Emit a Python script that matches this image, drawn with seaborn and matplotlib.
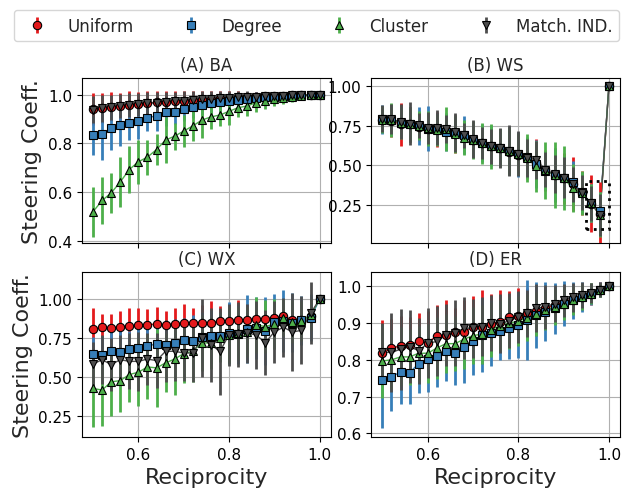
import pandas as pd
import matplotlib
matplotlib.use("Agg")
import matplotlib.pyplot as plt
from matplotlib.patches import Rectangle
import seaborn as sns

# Reciprocity values (x axis)
reciprocity = [0.50, 0.52, 0.54, 0.56, 0.58, 0.60, 0.62, 0.64, 0.66, 0.68, 0.70, 0.72, 0.74,
               0.76, 0.78, 0.80, 0.82, 0.84, 0.86, 0.88, 0.90, 0.92, 0.94, 0.96, 0.98, 1.00]

methods = ['Uniform', 'Degree', 'Cluster', 'Match. IND.']
panel_titles = ['(A) BA', '(B) WS', '(C) WX', '(D) ER']

# (A) BA
ba_uniform = [0.940, 0.945, 0.950, 0.952, 0.958, 0.962, 0.965, 0.968, 0.970, 0.973, 0.975, 0.977, 0.980,
              0.982, 0.984, 0.986, 0.988, 0.990, 0.991, 0.993, 0.995, 0.996, 0.997, 0.998, 0.999, 1.000]
ba_uniform_err = [0.065, 0.062, 0.060, 0.055, 0.055, 0.050, 0.048, 0.045, 0.045, 0.042, 0.040, 0.038, 0.035,
                  0.032, 0.030, 0.028, 0.025, 0.022, 0.020, 0.018, 0.015, 0.012, 0.010, 0.008, 0.005, 0.0]
ba_degree = [0.832, 0.836, 0.861, 0.873, 0.884, 0.893, 0.904, 0.913, 0.927, 0.930, 0.940, 0.949, 0.958,
             0.964, 0.968, 0.972, 0.977, 0.981, 0.985, 0.988, 0.990, 0.993, 0.995, 0.997, 0.999, 1.000]
ba_degree_err = [0.080, 0.105, 0.088, 0.085, 0.070, 0.075, 0.055, 0.062, 0.057, 0.052, 0.050, 0.045, 0.042,
                 0.040, 0.036, 0.033, 0.030, 0.027, 0.024, 0.020, 0.017, 0.014, 0.011, 0.008, 0.004, 0.0]
ba_cluster = [0.519, 0.565, 0.596, 0.641, 0.692, 0.724, 0.743, 0.774, 0.813, 0.829, 0.850, 0.871, 0.895,
              0.908, 0.916, 0.931, 0.946, 0.953, 0.967, 0.974, 0.981, 0.986, 0.990, 0.994, 0.997, 1.000]
ba_cluster_err = [0.103, 0.096, 0.083, 0.103, 0.096, 0.090, 0.072, 0.065, 0.093, 0.055, 0.067, 0.060, 0.075,
                  0.048, 0.045, 0.055, 0.040, 0.040, 0.040, 0.035, 0.030, 0.025, 0.020, 0.015, 0.008, 0.0]
ba_match = [0.938, 0.943, 0.948, 0.953, 0.957, 0.960, 0.964, 0.967, 0.970, 0.972, 0.975, 0.977, 0.980,
            0.982, 0.984, 0.986, 0.988, 0.989, 0.991, 0.993, 0.994, 0.996, 0.997, 0.998, 0.999, 1.000]
ba_match_err = [0.055, 0.055, 0.052, 0.050, 0.050, 0.048, 0.046, 0.044, 0.042, 0.040, 0.038, 0.036, 0.034,
                0.032, 0.030, 0.028, 0.026, 0.024, 0.021, 0.018, 0.015, 0.012, 0.010, 0.007, 0.004, 0.0]

# (B) WS
ws_uniform = [0.785, 0.782, 0.758, 0.760, 0.745, 0.730, 0.728, 0.722, 0.700, 0.688, 0.660, 0.640, 0.620,
              0.610, 0.585, 0.568, 0.545, 0.515, 0.470, 0.440, 0.418, 0.385, 0.325, 0.260, 0.195, 1.000]
ws_uniform_err = [0.080, 0.100, 0.135, 0.110, 0.090, 0.100, 0.110, 0.090, 0.120, 0.090, 0.110, 0.100, 0.110,
                  0.120, 0.140, 0.120, 0.130, 0.150, 0.130, 0.170, 0.160, 0.170, 0.140, 0.180, 0.200, 0.0]
ws_degree = [0.790, 0.785, 0.770, 0.758, 0.748, 0.732, 0.730, 0.712, 0.702, 0.690, 0.662, 0.640, 0.625,
             0.612, 0.590, 0.570, 0.550, 0.508, 0.468, 0.440, 0.418, 0.395, 0.330, 0.262, 0.212, 1.000]
ws_degree_err = [0.090, 0.100, 0.100, 0.110, 0.120, 0.140, 0.100, 0.120, 0.110, 0.120, 0.110, 0.120, 0.130,
                 0.120, 0.150, 0.140, 0.130, 0.150, 0.120, 0.170, 0.140, 0.130, 0.130, 0.120, 0.120, 0.0]
ws_cluster = [0.788, 0.786, 0.768, 0.758, 0.750, 0.733, 0.722, 0.728, 0.700, 0.673, 0.662, 0.640, 0.620,
              0.610, 0.590, 0.572, 0.545, 0.495, 0.470, 0.440, 0.420, 0.358, 0.326, 0.262, 0.190, 1.000]
ws_cluster_err = [0.085, 0.110, 0.100, 0.110, 0.090, 0.110, 0.100, 0.140, 0.120, 0.110, 0.120, 0.130, 0.140,
                  0.120, 0.150, 0.130, 0.150, 0.160, 0.180, 0.210, 0.200, 0.150, 0.140, 0.120, 0.140, 0.0]
ws_match = [0.795, 0.790, 0.775, 0.762, 0.752, 0.735, 0.738, 0.730, 0.708, 0.690, 0.665, 0.642, 0.622,
            0.608, 0.592, 0.575, 0.548, 0.535, 0.472, 0.445, 0.422, 0.380, 0.328, 0.262, 0.188, 1.000]
ws_match_err = [0.085, 0.095, 0.110, 0.135, 0.080, 0.100, 0.110, 0.090, 0.125, 0.080, 0.120, 0.100, 0.110,
                0.125, 0.160, 0.140, 0.120, 0.120, 0.110, 0.120, 0.130, 0.110, 0.110, 0.110, 0.130, 0.0]

# (C) WX
wx_uniform = [0.808, 0.820, 0.816, 0.823, 0.827, 0.833, 0.835, 0.842, 0.833, 0.842, 0.848, 0.846, 0.846,
              0.850, 0.861, 0.863, 0.868, 0.870, 0.874, 0.876, 0.882, 0.890, 0.870, 0.865, 0.895, 1.000]
wx_uniform_err = [0.135, 0.085, 0.090, 0.100, 0.120, 0.110, 0.100, 0.110, 0.095, 0.105, 0.120, 0.100, 0.115,
                  0.140, 0.095, 0.110, 0.125, 0.100, 0.120, 0.110, 0.100, 0.100, 0.110, 0.120, 0.110, 0.0]
wx_degree = [0.647, 0.641, 0.665, 0.658, 0.679, 0.684, 0.700, 0.712, 0.707, 0.716, 0.739, 0.729, 0.756,
             0.761, 0.761, 0.786, 0.776, 0.810, 0.818, 0.797, 0.857, 0.861, 0.850, 0.865, 0.882, 1.000]
wx_degree_err = [0.110, 0.120, 0.130, 0.140, 0.120, 0.150, 0.140, 0.150, 0.130, 0.160, 0.140, 0.170, 0.160,
                 0.170, 0.160, 0.200, 0.190, 0.220, 0.200, 0.220, 0.180, 0.200, 0.190, 0.160, 0.150, 0.0]
wx_cluster = [0.425, 0.415, 0.468, 0.476, 0.515, 0.530, 0.564, 0.558, 0.590, 0.615, 0.650, 0.665, 0.720,
              0.718, 0.754, 0.770, 0.780, 0.790, 0.835, 0.825, 0.840, 0.883, 0.857, 0.860, 0.900, 1.000]
wx_cluster_err = [0.250, 0.230, 0.220, 0.200, 0.180, 0.220, 0.210, 0.250, 0.190, 0.230, 0.190, 0.200, 0.180,
                  0.170, 0.160, 0.180, 0.170, 0.160, 0.180, 0.170, 0.160, 0.120, 0.140, 0.130, 0.100, 0.0]
wx_match = [0.583, 0.611, 0.579, 0.611, 0.600, 0.600, 0.615, 0.605, 0.665, 0.665, 0.654, 0.654, 0.750,
            0.707, 0.665, 0.771, 0.776, 0.782, 0.771, 0.720, 0.790, 0.820, 0.790, 0.800, 0.910, 1.000]
wx_match_err = [0.140, 0.160, 0.170, 0.160, 0.180, 0.190, 0.170, 0.180, 0.200, 0.190, 0.180, 0.190, 0.250,
                0.240, 0.280, 0.200, 0.210, 0.190, 0.220, 0.210, 0.200, 0.190, 0.250, 0.220, 0.200, 0.0]

# (D) ER
er_uniform = [0.818, 0.832, 0.838, 0.841, 0.850, 0.847, 0.865, 0.868, 0.875, 0.875, 0.889, 0.890, 0.898,
              0.904, 0.916, 0.920, 0.926, 0.933, 0.940, 0.949, 0.958, 0.965, 0.971, 0.980, 0.991, 1.000]
er_uniform_err = [0.090, 0.080, 0.080, 0.075, 0.076, 0.085, 0.085, 0.095, 0.065, 0.088, 0.085, 0.100, 0.080,
                  0.085, 0.070, 0.075, 0.070, 0.068, 0.060, 0.050, 0.045, 0.040, 0.035, 0.030, 0.020, 0.0]
er_degree = [0.745, 0.754, 0.767, 0.765, 0.790, 0.802, 0.810, 0.823, 0.818, 0.836, 0.850, 0.868, 0.872,
             0.879, 0.886, 0.895, 0.908, 0.922, 0.931, 0.940, 0.953, 0.962, 0.971, 0.978, 0.991, 1.000]
er_degree_err = [0.130, 0.093, 0.088, 0.085, 0.080, 0.090, 0.085, 0.080, 0.085, 0.100, 0.090, 0.100, 0.090,
                 0.080, 0.085, 0.090, 0.108, 0.090, 0.080, 0.070, 0.060, 0.050, 0.040, 0.030, 0.020, 0.0]
er_cluster = [0.797, 0.800, 0.808, 0.808, 0.818, 0.818, 0.832, 0.844, 0.844, 0.856, 0.866, 0.870, 0.882,
              0.893, 0.900, 0.905, 0.915, 0.925, 0.935, 0.944, 0.953, 0.962, 0.971, 0.980, 0.990, 1.000]
er_cluster_err = [0.100, 0.080, 0.080, 0.075, 0.075, 0.080, 0.085, 0.080, 0.075, 0.080, 0.078, 0.080, 0.075,
                  0.070, 0.070, 0.068, 0.065, 0.060, 0.055, 0.050, 0.045, 0.040, 0.035, 0.028, 0.020, 0.0]
er_match = [0.821, 0.820, 0.829, 0.836, 0.825, 0.845, 0.850, 0.868, 0.872, 0.886, 0.886, 0.890, 0.900,
            0.898, 0.906, 0.917, 0.926, 0.940, 0.944, 0.953, 0.962, 0.970, 0.976, 0.982, 0.991, 1.000]
er_match_err = [0.080, 0.108, 0.110, 0.100, 0.090, 0.095, 0.095, 0.085, 0.090, 0.085, 0.080, 0.080, 0.075,
                0.080, 0.075, 0.070, 0.065, 0.065, 0.060, 0.050, 0.045, 0.040, 0.035, 0.028, 0.020, 0.0]


def panel_frame(panel, series):
    # long-form table for one panel
    rows = []
    for method, (vals, errs) in zip(methods, series):
        for r, v, e in zip(reciprocity, vals, errs):
            rows.append({'Panel': panel, 'Method': method, 'Reciprocity': r,
                         'Steering': v, 'Err': e})
    return pd.DataFrame(rows)


df = pd.concat([
    panel_frame('(A) BA', [(ba_uniform, ba_uniform_err), (ba_degree, ba_degree_err),
                           (ba_cluster, ba_cluster_err), (ba_match, ba_match_err)]),
    panel_frame('(B) WS', [(ws_uniform, ws_uniform_err), (ws_degree, ws_degree_err),
                           (ws_cluster, ws_cluster_err), (ws_match, ws_match_err)]),
    panel_frame('(C) WX', [(wx_uniform, wx_uniform_err), (wx_degree, wx_degree_err),
                           (wx_cluster, wx_cluster_err), (wx_match, wx_match_err)]),
    panel_frame('(D) ER', [(er_uniform, er_uniform_err), (er_degree, er_degree_err),
                           (er_cluster, er_cluster_err), (er_match, er_match_err)]),
], ignore_index=True)

sns.set_style("ticks", {"axes.grid": True, "grid.color": "#b0b0b0", "axes.edgecolor": "black",
                        "xtick.color": "black", "ytick.color": "black"})
plt.rcParams['font.family'] = ['DejaVu Sans']

colors = {'Uniform': '#e41a1c', 'Degree': '#377eb8', 'Cluster': '#4daf4a', 'Match. IND.': '#4d4d4d'}
markers = {'Uniform': 'o', 'Degree': 's', 'Cluster': '^', 'Match. IND.': 'v'}

ylims = {'(A) BA': (0.39, 1.067), '(B) WS': (0.011, 1.049),
         '(C) WX': (0.111, 1.175), '(D) ER': (0.59, 1.038)}
yticks = {'(A) BA': [0.4, 0.6, 0.8, 1.0], '(B) WS': [0.25, 0.5, 0.75, 1.0],
          '(C) WX': [0.25, 0.5, 0.75, 1.0], '(D) ER': [0.6, 0.7, 0.8, 0.9, 1.0]}

fig, axes = plt.subplots(2, 2, figsize=(6.24, 4.89), dpi=100, sharex=True)
fig.subplots_adjust(left=0.131, right=0.994, top=0.838, bottom=0.104, wspace=0.161, hspace=0.177)

handles = []
for ax, title in zip(axes.flat, panel_titles):
    data = df[df['Panel'] == title]
    # connecting lines
    sns.lineplot(data=data, x='Reciprocity', y='Steering', hue='Method', hue_order=methods,
                 palette=colors, linewidth=1, legend=False, ax=ax, zorder=2)
    # markers with error bars
    for method in methods:
        d = data[data['Method'] == method]
        h = ax.errorbar(d['Reciprocity'], d['Steering'], yerr=d['Err'], fmt=markers[method],
                        color=colors[method], mec='black', mew=0.8, ms=6, elinewidth=2,
                        capsize=0, zorder=3, label=method)
        if title == '(A) BA':
            handles.append(h)
    ax.set_title(title, fontsize=12)
    ax.set_xlim(0.475, 1.025)
    ax.set_xticks([0.6, 0.8, 1.0])
    ax.set_ylim(*ylims[title])
    ax.set_yticks(yticks[title])
    ax.tick_params(axis='y', labelsize=11)
    ax.tick_params(axis='x', labelsize=11)
    ax.set_xlabel('')
    ax.set_ylabel('')

# highlight box in WS panel
axes[0, 1].add_patch(Rectangle((0.95, 0.1), 0.05, 0.3, fill=False, ls=':', lw=2,
                               ec='black', zorder=5))

for ax in axes[:, 0]:
    ax.set_ylabel('Steering Coeff.', fontsize=16)
for ax in axes[1, :]:
    ax.set_xlabel('Reciprocity', fontsize=16)

fig.legend(handles, methods, loc='upper left', ncol=4, fontsize=12, columnspacing=2.45,
           bbox_to_anchor=(14 / 624, 1 - 11 / 489), borderaxespad=0)

plt.savefig('out.png', dpi=100)
